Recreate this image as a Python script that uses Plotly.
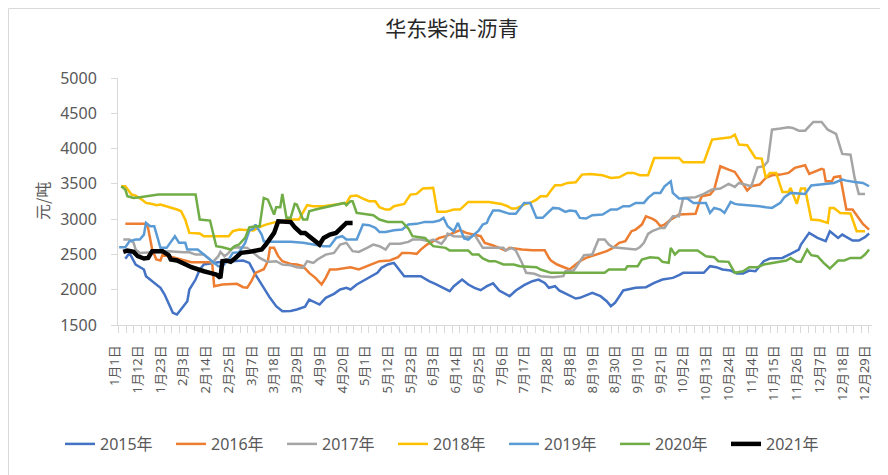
import plotly.graph_objects as go
from datetime import datetime, timedelta

BASE_YEAR = 2020  # leap-year calendar shared by all series

tick_labels = ["1月1日", "1月12日", "1月23日", "2月3日", "2月14日", "2月25日", "3月7日", "3月18日",
               "3月29日", "4月9日", "4月20日", "5月1日", "5月12日", "5月23日", "6月3日", "6月14日",
               "6月25日", "7月6日", "7月17日", "7月28日", "8月8日", "8月19日", "8月30日", "9月10日",
               "9月21日", "10月2日", "10月13日", "10月24日", "11月4日", "11月15日", "11月26日",
               "12月7日", "12月18日", "12月29日"]

y_ticks = [1500, 2000, 2500, 3000, 3500, 4000, 4500, 5000]

s2015 = [("01-06", 2440), ("01-08", 2520), ("01-11", 2357), ("01-15", 2286), ("01-16", 2192), ("01-19", 2121),
         ("01-23", 2027), ("01-25", 1932), ("01-27", 1790), ("01-29", 1672), ("01-31", 1649), ("02-02", 1720),
         ("02-05", 1838), ("02-06", 2003), ("02-09", 2144), ("02-11", 2286), ("02-13", 2357), ("02-20", 2390),
         ("02-28", 2400), ("03-03", 2413), ("03-06", 2380), ("03-09", 2215), ("03-13", 2027), ("03-16", 1885),
         ("03-19", 1767), ("03-22", 1696), ("03-26", 1700), ("03-29", 1720), ("04-02", 1760), ("04-04", 1861),
         ("04-09", 1790), ("04-12", 1885), ("04-16", 1942), ("04-19", 2003), ("04-22", 2027), ("04-24", 2003),
         ("04-27", 2074), ("04-30", 2121), ("05-03", 2168), ("05-07", 2239), ("05-09", 2310), ("05-12", 2357),
         ("05-15", 2380), ("05-17", 2310), ("05-20", 2192), ("05-28", 2192), ("06-01", 2121), ("06-04", 2083),
         ("06-08", 2027), ("06-11", 1979), ("06-13", 2050), ("06-17", 2144), ("06-20", 2074), ("06-23", 2027),
         ("06-26", 1993), ("06-29", 2050), ("07-02", 2090), ("07-05", 1989), ("07-10", 1908), ("07-13", 1989),
         ("07-17", 2064), ("07-21", 2121), ("07-24", 2144), ("07-27", 2097), ("07-29", 2027), ("08-01", 2050),
         ("08-03", 1989), ("08-07", 1932), ("08-11", 1875), ("08-13", 1885), ("08-16", 1923), ("08-19", 1955),
         ("08-23", 1908), ("08-26", 1838), ("08-28", 1767), ("08-30", 1814), ("09-03", 1989), ("09-06", 2003),
         ("09-09", 2027), ("09-14", 2036), ("09-18", 2097), ("09-22", 2144), ("09-27", 2168), ("09-30", 2206),
         ("10-02", 2239), ("10-12", 2239), ("10-15", 2333), ("10-18", 2319), ("10-21", 2286), ("10-25", 2272),
         ("10-28", 2230), ("10-31", 2230), ("11-03", 2272), ("11-06", 2262), ("11-10", 2404), ("11-13", 2442),
         ("11-16", 2451), ("11-19", 2451), ("11-23", 2508), ("11-27", 2569), ("11-28", 2640), ("12-02", 2805),
         ("12-06", 2734), ("12-10", 2687), ("12-12", 2829), ("12-16", 2734), ("12-18", 2781), ("12-23", 2697),
         ("12-26", 2697), ("12-29", 2744), ("12-31", 2796)]

s2016 = [("01-06", 2933), ("01-16", 2933), ("01-17", 2876), ("01-19", 2569), ("01-21", 2428), ("01-23", 2414),
         ("01-24", 2498), ("01-27", 2475), ("01-31", 2451), ("02-03", 2428), ("02-05", 2404), ("02-07", 2390),
         ("02-17", 2390), ("02-18", 2050), ("02-22", 2074), ("02-26", 2083), ("02-29", 2083), ("03-03", 2036),
         ("03-05", 2030), ("03-07", 2121), ("03-09", 2239), ("03-13", 2290), ("03-15", 2404), ("03-16", 2593),
         ("03-18", 2593), ("03-20", 2475), ("03-22", 2404), ("03-26", 2366), ("03-29", 2357), ("04-01", 2333),
         ("04-04", 2239), ("04-07", 2168), ("04-10", 2074), ("04-12", 2168), ("04-14", 2286), ("04-17", 2286),
         ("04-22", 2310), ("04-24", 2319), ("04-28", 2286), ("05-02", 2333), ("05-05", 2366), ("05-08", 2404),
         ("05-13", 2414), ("05-17", 2461), ("05-19", 2522), ("05-22", 2522), ("05-26", 2508), ("05-28", 2569),
         ("05-31", 2640), ("06-03", 2687), ("06-06", 2734), ("06-09", 2758), ("06-13", 2805), ("06-16", 2843),
         ("06-19", 2805), ("06-22", 2781), ("06-26", 2758), ("06-28", 2664), ("06-30", 2640), ("07-02", 2626),
         ("07-05", 2593), ("07-08", 2555), ("07-10", 2593), ("07-13", 2579), ("07-16", 2569), ("07-21", 2560),
         ("07-27", 2560), ("07-29", 2451), ("07-30", 2414), ("08-02", 2357), ("08-06", 2310), ("08-08", 2286),
         ("08-11", 2357), ("08-13", 2404), ("08-16", 2451), ("08-21", 2498), ("08-26", 2546), ("08-29", 2593),
         ("09-01", 2664), ("09-04", 2687), ("09-07", 2829), ("09-09", 2852), ("09-12", 2923), ("09-14", 3041),
         ("09-17", 3008), ("09-19", 2970), ("09-21", 2899), ("09-23", 2923), ("09-26", 2994), ("09-30", 3065),
         ("10-08", 3075), ("10-10", 3253), ("10-11", 3325), ("10-15", 3348), ("10-17", 3419), ("10-20", 3749),
         ("10-21", 3735), ("10-24", 3702), ("10-27", 3669), ("10-29", 3584), ("10-31", 3490), ("11-02", 3405),
         ("11-04", 3466), ("11-08", 3490), ("11-11", 3584), ("11-14", 3622), ("11-18", 3631), ("11-22", 3655),
         ("11-25", 3726), ("11-28", 3749), ("11-30", 3763), ("12-02", 3641), ("12-05", 3678), ("12-08", 3712),
         ("12-09", 3702), ("12-10", 3537), ("12-13", 3537), ("12-14", 3594), ("12-17", 3608), ("12-20", 3136),
         ("12-23", 3136), ("12-26", 3018), ("12-28", 2933), ("12-31", 2852)]

s2017 = [("01-05", 2711), ("01-08", 2711), ("01-10", 2664), ("01-11", 2569), ("01-13", 2522), ("01-19", 2536),
         ("01-27", 2546), ("02-03", 2531), ("02-06", 2531), ("02-09", 2498), ("02-13", 2498), ("02-16", 2428),
         ("02-17", 2380), ("02-20", 2475), ("02-21", 2536), ("02-23", 2475), ("02-25", 2522), ("02-27", 2593),
         ("03-01", 2602), ("03-05", 2593), ("03-08", 2522), ("03-11", 2451), ("03-14", 2404), ("03-16", 2395),
         ("03-19", 2404), ("03-22", 2357), ("03-26", 2347), ("03-29", 2319), ("04-01", 2310), ("04-03", 2404),
         ("04-06", 2380), ("04-08", 2428), ("04-12", 2498), ("04-16", 2522), ("04-19", 2640), ("04-22", 2664),
         ("04-25", 2546), ("04-28", 2536), ("05-02", 2593), ("05-05", 2640), ("05-08", 2617), ("05-11", 2569),
         ("05-13", 2650), ("05-18", 2650), ("05-22", 2678), ("05-24", 2711), ("05-28", 2711), ("06-01", 2687),
         ("06-03", 2711), ("06-07", 2650), ("06-09", 2725), ("06-10", 2796), ("06-13", 2758), ("06-21", 2748),
         ("06-23", 2781), ("06-24", 2734), ("06-27", 2593), ("07-07", 2593), ("07-08", 2555), ("07-11", 2593),
         ("07-13", 2555), ("07-16", 2380), ("07-18", 2239), ("07-22", 2225), ("07-25", 2192), ("07-31", 2178),
         ("08-05", 2192), ("08-06", 2262), ("08-10", 2272), ("08-12", 2357), ("08-15", 2489), ("08-19", 2498),
         ("08-22", 2711), ("08-25", 2711), ("08-27", 2640), ("08-29", 2602), ("09-01", 2593), ("09-05", 2583),
         ("09-09", 2569), ("09-11", 2602), ("09-13", 2664), ("09-15", 2791), ("09-17", 2829), ("09-21", 2876),
         ("09-23", 2876), ("09-25", 2961), ("09-27", 3041), ("09-30", 3041), ("10-02", 3301), ("10-08", 3310),
         ("10-12", 3358), ("10-16", 3419), ("10-20", 3433), ("10-24", 3499), ("10-27", 3457), ("10-29", 3513),
         ("11-01", 3490), ("11-04", 3466), ("11-07", 3735), ("11-10", 3749), ("11-12", 3820), ("11-14", 4268),
         ("11-18", 4283), ("11-22", 4302), ("11-24", 4292), ("11-27", 4254), ("11-30", 4254), ("12-04", 4377),
         ("12-08", 4377), ("12-11", 4268), ("12-15", 4207), ("12-18", 3924), ("12-22", 3914), ("12-24", 3584),
         ("12-26", 3358), ("12-29", 3358)]

s2018 = [("01-04", 3466), ("01-06", 3466), ("01-09", 3348), ("01-11", 3334), ("01-14", 3277), ("01-16", 3230),
         ("01-19", 3216), ("01-21", 3197), ("01-23", 3206), ("01-26", 3183), ("01-28", 3169), ("01-31", 3136),
         ("02-02", 3112), ("02-04", 2994), ("02-05", 2899), ("02-06", 2805), ("02-11", 2796), ("02-13", 2758),
         ("02-25", 2758), ("02-27", 2829), ("03-01", 2852), ("03-08", 2838), ("03-10", 2876), ("03-14", 2923),
         ("03-19", 2961), ("03-22", 2970), ("03-26", 2994), ("03-30", 2994), ("04-03", 3197), ("04-06", 3183),
         ("04-11", 3183), ("04-16", 3206), ("04-22", 3230), ("04-24", 3325), ("04-27", 3334), ("04-30", 3292),
         ("05-03", 3254), ("05-06", 3254), ("05-08", 3169), ("05-11", 3136), ("05-13", 3136), ("05-15", 3183),
         ("05-18", 3206), ("05-20", 3216), ("05-23", 3348), ("05-26", 3358), ("05-29", 3433), ("06-01", 3443),
         ("06-03", 3443), ("06-05", 3103), ("06-09", 3103), ("06-13", 3136), ("06-16", 3136), ("06-20", 3244),
         ("06-30", 3244), ("07-03", 3230), ("07-06", 3216), ("07-09", 3183), ("07-11", 3150), ("07-13", 3150),
         ("07-17", 3206), ("07-21", 3244), ("07-23", 3277), ("07-25", 3325), ("07-28", 3325), ("07-30", 3405),
         ("08-01", 3480), ("08-04", 3480), ("08-07", 3513), ("08-11", 3523), ("08-14", 3631), ("08-18", 3641),
         ("08-22", 3622), ("08-24", 3622), ("08-28", 3584), ("09-01", 3593), ("09-05", 3655), ("09-08", 3655),
         ("09-11", 3622), ("09-15", 3622), ("09-18", 3867), ("09-23", 3867), ("09-30", 3867), ("10-02", 3806),
         ("10-12", 3806), ("10-16", 4127), ("10-21", 4141), ("10-25", 4160), ("10-27", 4198), ("10-29", 4056),
         ("11-02", 4047), ("11-06", 3867), ("11-09", 3858), ("11-11", 3584), ("11-13", 3655), ("11-16", 3655),
         ("11-19", 3386), ("11-22", 3386), ("11-23", 3443), ("11-26", 3216), ("11-28", 3433), ("11-30", 3433),
         ("12-03", 2994), ("12-07", 2985), ("12-11", 2947), ("12-12", 3159), ("12-14", 3159), ("12-17", 3088),
         ("12-22", 3079), ("12-25", 2829), ("12-29", 2829)]

s2019 = [("01-03", 2602), ("01-06", 2602), ("01-08", 2687), ("01-11", 2711), ("01-13", 2711), ("01-15", 2781),
         ("01-16", 2947), ("01-18", 2899), ("01-20", 2899), ("01-23", 2593), ("01-26", 2593), ("01-30", 2758),
         ("02-01", 2664), ("02-04", 2664), ("02-05", 2569), ("02-10", 2569), ("02-13", 2498), ("02-17", 2404),
         ("02-20", 2333), ("02-22", 2333), ("02-25", 2428), ("02-27", 2522), ("03-01", 2531), ("03-04", 2664),
         ("03-06", 2838), ("03-08", 2867), ("03-09", 2923), ("03-12", 2781), ("03-13", 2687), ("03-16", 2678),
         ("03-26", 2678), ("04-01", 2664), ("04-06", 2640), ("04-11", 2617), ("04-14", 2617), ("04-17", 2734),
         ("04-20", 2758), ("04-22", 2711), ("04-27", 2711), ("04-30", 2923), ("05-03", 2914), ("05-06", 2876),
         ("05-08", 2819), ("05-11", 2819), ("05-15", 2843), ("05-19", 2852), ("05-22", 2923), ("05-26", 2933),
         ("05-30", 2961), ("06-03", 2961), ("06-06", 2980), ("06-08", 3018), ("06-10", 2899), ("06-13", 2829),
         ("06-15", 2947), ("06-18", 2725), ("06-20", 2711), ("06-22", 2758), ("06-25", 2838), ("06-27", 2923),
         ("06-29", 2947), ("06-30", 3018), ("07-02", 3122), ("07-05", 3122), ("07-08", 3088), ("07-10", 3075),
         ("07-13", 3075), ("07-17", 3230), ("07-20", 3230), ("07-21", 3159), ("07-23", 3018), ("07-26", 3018),
         ("07-30", 3136), ("07-31", 3159), ("08-03", 3150), ("08-06", 3103), ("08-08", 3122), ("08-11", 3112),
         ("08-13", 3018), ("08-16", 3008), ("08-19", 3055), ("08-24", 3065), ("08-28", 3136), ("08-31", 3136),
         ("09-03", 3183), ("09-06", 3183), ("09-09", 3230), ("09-13", 3230), ("09-15", 3301), ("09-18", 3372),
         ("09-21", 3372), ("09-23", 3466), ("09-26", 3537), ("09-27", 3372), ("09-30", 3292), ("10-04", 3292),
         ("10-07", 3230), ("10-13", 3230), ("10-15", 3088), ("10-17", 3159), ("10-20", 3136), ("10-22", 3088),
         ("10-25", 3244), ("10-27", 3216), ("10-29", 3206), ("11-05", 3197), ("11-08", 3183), ("11-11", 3169),
         ("11-14", 3159), ("11-18", 3230), ("11-20", 3310), ("11-23", 3372), ("11-27", 3358), ("11-30", 3358),
         ("12-03", 3476), ("12-07", 3490), ("12-11", 3513), ("12-14", 3513), ("12-18", 3561), ("12-20", 3546),
         ("12-24", 3527), ("12-28", 3513), ("12-31", 3466)]

s2020 = [("01-04", 3466), ("01-06", 3419), ("01-07", 3325), ("01-10", 3301), ("01-13", 3310), ("01-16", 3325),
         ("01-19", 3334), ("01-22", 3348), ("02-09", 3348), ("02-11", 2994), ("02-16", 2980), ("02-19", 2617),
         ("02-22", 2602), ("02-26", 2569), ("02-28", 2617), ("03-01", 2640), ("03-04", 2734), ("03-06", 2885),
         ("03-09", 2899), ("03-11", 2899), ("03-13", 3301), ("03-15", 3277), ("03-18", 3065), ("03-19", 3169),
         ("03-21", 3169), ("03-22", 3358), ("03-24", 3018), ("03-26", 3018), ("03-28", 3216), ("03-29", 3206),
         ("03-31", 3065), ("04-01", 2994), ("04-03", 2994), ("04-04", 3112), ("04-07", 3136), ("04-12", 3169),
         ("04-17", 3197), ("04-21", 3230), ("04-22", 3197), ("04-24", 3254), ("04-25", 3254), ("04-27", 3088),
         ("04-30", 3075), ("05-05", 3055), ("05-08", 2994), ("05-12", 2961), ("05-19", 2961), ("05-22", 2867),
         ("05-24", 2758), ("05-30", 2734), ("06-01", 2678), ("06-03", 2617), ("06-09", 2593), ("06-11", 2555),
         ("06-20", 2555), ("06-22", 2498), ("06-25", 2498), ("06-27", 2442), ("06-30", 2404), ("07-03", 2404),
         ("07-07", 2357), ("07-12", 2357), ("07-15", 2333), ("07-23", 2319), ("07-25", 2286), ("07-30", 2239),
         ("08-25", 2239), ("08-27", 2286), ("09-04", 2286), ("09-05", 2333), ("09-10", 2333), ("09-12", 2428),
         ("09-16", 2461), ("09-20", 2451), ("09-22", 2395), ("09-25", 2380), ("09-26", 2593), ("09-28", 2498),
         ("09-30", 2555), ("10-09", 2555), ("10-13", 2475), ("10-17", 2461), ("10-19", 2404), ("10-24", 2395),
         ("10-27", 2239), ("10-31", 2262), ("11-03", 2319), ("11-07", 2319), ("11-10", 2357), ("11-15", 2380),
         ("11-21", 2414), ("11-23", 2451), ("11-26", 2395), ("11-28", 2395), ("12-01", 2569), ("12-03", 2489),
         ("12-06", 2475), ("12-09", 2380), ("12-12", 2300), ("12-16", 2414), ("12-19", 2414), ("12-22", 2451),
         ("12-27", 2451), ("12-29", 2498), ("12-31", 2569)]

s2021 = [("01-05", 2536), ("01-07", 2555), ("01-10", 2536), ("01-12", 2475), ("01-15", 2442), ("01-17", 2451),
         ("01-19", 2546), ("01-22", 2555), ("01-24", 2546), ("01-27", 2489), ("01-28", 2428), ("01-31", 2414),
         ("02-02", 2380), ("02-05", 2347), ("02-07", 2319), ("02-10", 2286), ("02-13", 2262), ("02-16", 2239),
         ("02-19", 2215), ("02-21", 2168), ("02-22", 2404), ("02-24", 2414), ("02-26", 2395), ("02-28", 2442),
         ("03-02", 2522), ("03-06", 2536), ("03-09", 2546), ("03-12", 2569), ("03-14", 2640), ("03-16", 2734),
         ("03-18", 2805), ("03-20", 2970), ("03-24", 2961), ("03-26", 2961), ("03-28", 2885), ("03-31", 2805),
         ("04-02", 2805), ("04-04", 2758), ("04-07", 2687), ("04-09", 2640), ("04-11", 2734), ("04-14", 2781),
         ("04-17", 2805), ("04-20", 2899), ("04-22", 2947), ("04-25", 2947)]

series_names = ["2015年", "2016年", "2017年", "2018年", "2019年", "2020年", "2021年"]
series_data = [s2015, s2016, s2017, s2018, s2019, s2020, s2021]
series_colors = ["#4472C4", "#ED7D31", "#A5A5A5", "#FFC000", "#5B9BD5", "#70AD47", "#000000"]
series_widths = [2.5, 2.5, 2.5, 2.5, 2.5, 2.5, 4.5]

FONT = "Noto Sans, Noto Sans CJK SC, sans-serif"
CJK = "Noto Sans CJK SC, Noto Sans, sans-serif"
GREY = "#595959"
AXIS = "#D9D9D9"

fig = go.Figure()
for name, data, color, width in zip(series_names, series_data, series_colors, series_widths):
    fig.add_trace(go.Scatter(
        x=[f"{BASE_YEAR}-{md}" for md, _ in data],
        y=[v for _, v in data],
        mode="lines", name=name,
        line=dict(color=color, width=width),
    ))

jan1 = datetime(BASE_YEAR, 1, 1)


def label_date(lbl):
    m, rest = lbl.split("月")
    return datetime(BASE_YEAR, int(m), int(rest.rstrip("日")))


# labels sit half a tick-interval left of the axis origin in the source chart
tick_vals = [label_date(t) + timedelta(days=1.5) for t in tick_labels]

x_start = jan1 + timedelta(days=1.45)
x_end = jan1 + timedelta(days=366.4)

L, R, T, B = 110, 24, 70, 158
W, H = 888, 475
pw, ph = W - L - R, H - T - B


def px_x(p):
    return (p - L) / pw


def px_y(p):
    return (H - B - p) / ph


fig.update_layout(
    width=W, height=H,
    margin=dict(l=L, r=R, t=T, b=B, autoexpand=False),
    paper_bgcolor="white", plot_bgcolor="white",
    font=dict(family=FONT, color=GREY),
    title=dict(text="华东柴油-沥青", x=0.5, xref="container", xanchor="center",
               y=1 - 21 / H, yref="container", yanchor="middle",
               font=dict(family=CJK, size=21, color="#262626")),
    showlegend=True,
    legend=dict(orientation="h", x=px_x(52), xanchor="left", y=px_y(436), yanchor="middle",
                font=dict(family=FONT, size=16, color=GREY),
                entrywidth=66, entrywidthmode="pixels", bgcolor="rgba(0,0,0,0)"),
    hovermode=False,
)

fig.update_xaxes(
    type="date", range=[x_start, x_end], automargin=False,
    showgrid=False, zeroline=False,
    showline=True, linecolor=AXIS, linewidth=1,
    tickmode="array", tickvals=tick_vals, ticktext=tick_labels,
    ticks="", tickangle=-90, ticklabelshift=-3, ticklabelstandoff=14,
    tickfont=dict(family=FONT, size=13, color=GREY),
    minor=dict(ticks="outside", ticklen=7, tickcolor=AXIS, tickwidth=1,
               tick0=jan1 + timedelta(days=1.84), dtick=11 / 3 * 86400000, showgrid=False),
)

fig.update_yaxes(
    range=[1500, 5000], automargin=False,
    tickmode="array", tickvals=y_ticks,
    showgrid=False, zeroline=False,
    showline=True, linecolor=AXIS, linewidth=1,
    ticks="outside", ticklen=6, tickcolor=AXIS, tickwidth=1, ticklabelstandoff=11,
    tickfont=dict(family=FONT, size=16, color=GREY),
)

fig.add_annotation(text="元/吨", textangle=-90, xref="paper", yref="paper",
                   x=px_x(34), y=px_y(193), xanchor="center", yanchor="middle",
                   showarrow=False, font=dict(family=CJK, size=16, color=GREY))

fig.add_shape(type="rect", xref="paper", yref="paper",
              x0=px_x(0.5), x1=px_x(887.5), y0=px_y(474.5), y1=px_y(0.5),
              line=dict(color=AXIS, width=1), fillcolor="rgba(0,0,0,0)", layer="below")

fig.write_html("out.html")
